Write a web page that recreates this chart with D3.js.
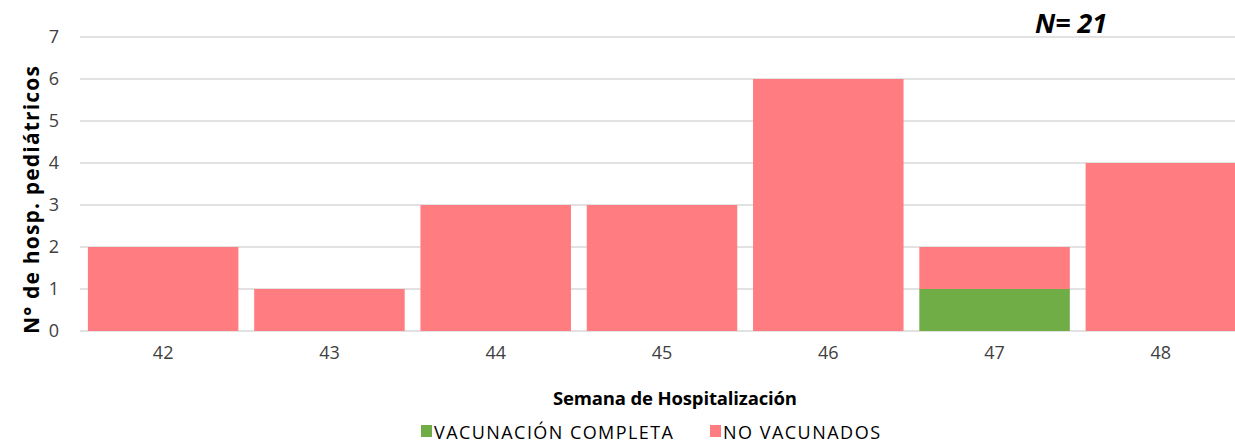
<!DOCTYPE html>
<html>
<head>
<meta charset="utf-8">
<script src="https://cdn.jsdelivr.net/npm/d3@7"></script>
<style>
  html, body { margin: 0; padding: 0; background: #fff; }
  svg { display: block; font-family: "Open Sans", "Liberation Sans", sans-serif; }
</style>
</head>
<body>
<svg id="chart" width="1235" height="443"></svg>
<script>
// Weekly paediatric hospitalisations by vaccination status
const weeks = ["42", "43", "44", "45", "46", "47", "48"];
const vacunacionCompleta = [0, 0, 0, 0, 0, 1, 0];
const noVacunados = [2, 1, 3, 3, 6, 1, 4];
const yTicks = [0, 1, 2, 3, 4, 5, 6, 7];
const seriesNames = ["VACUNACIÓN COMPLETA", "NO VACUNADOS"];
const seriesColors = ["#70AD47", "#FF7C80"];

const svg = d3.select("#chart");

const x = d3.scaleBand()
  .domain(weeks)
  .range([80, 1244])
  .paddingInner(0.095)
  .paddingOuter(0.0475);

const y = d3.scaleLinear().domain([0, 7]).range([331, 37]);

// gridlines
svg.append("g")
  .selectAll("line")
  .data(yTicks)
  .join("line")
  .attr("x1", 80).attr("x2", 1235)
  .attr("y1", d => y(d)).attr("y2", d => y(d))
  .attr("stroke", "#d9d9d9")
  .attr("stroke-width", 1.5);

// stacked bars
const rows = weeks.map((w, i) => ({ week: w, vac: vacunacionCompleta[i], novac: noVacunados[i] }));
const stack = d3.stack().keys(["vac", "novac"])(rows);

svg.append("g")
  .selectAll("g")
  .data(stack)
  .join("g")
  .attr("fill", (d, i) => seriesColors[i])
  .selectAll("rect")
  .data(d => d.filter(s => s[1] > s[0]))
  .join("rect")
  .attr("x", d => x(d.data.week))
  .attr("width", x.bandwidth())
  .attr("y", d => y(d[1]))
  .attr("height", d => y(d[0]) - y(d[1]));

// y axis labels
const yAxis = d3.axisLeft(y).tickValues(yTicks).tickFormat(d3.format("d")).tickSize(0).tickPadding(0);
svg.append("g")
  .attr("transform", "translate(59,0)")
  .call(yAxis)
  .call(g => g.select(".domain").remove())
  .call(g => g.selectAll("text")
    .attr("font-family", "Open Sans, Liberation Sans, sans-serif")
    .attr("font-size", 18).attr("fill", "#404040"));

// x axis labels
const xAxis = d3.axisBottom(x).tickSize(0).tickPadding(0);
svg.append("g")
  .attr("transform", "translate(0,346)")
  .call(xAxis)
  .call(g => g.select(".domain").remove())
  .call(g => g.selectAll("text")
    .attr("font-family", "Open Sans, Liberation Sans, sans-serif")
    .attr("font-size", 18).attr("fill", "#404040"));

// axis titles
svg.append("text")
  .attr("transform", "translate(39,200) rotate(-90)")
  .attr("text-anchor", "middle")
  .attr("font-weight", "bold")
  .attr("font-size", 21)
  .attr("textLength", 268)
  .attr("lengthAdjust", "spacing")
  .attr("fill", "#000")
  .text("N° de hosp. pediátricos");

svg.append("text")
  .attr("x", 675).attr("y", 405)
  .attr("text-anchor", "middle")
  .attr("font-weight", "bold")
  .attr("font-size", 18.5)
  .attr("textLength", 244)
  .attr("lengthAdjust", "spacing")
  .attr("fill", "#000")
  .text("Semana de Hospitalización");

// N annotation
svg.append("text")
  .attr("x", 1035).attr("y", 33)
  .attr("font-weight", "bold")
  .attr("font-style", "italic")
  .attr("font-size", 26)
  .attr("textLength", 72)
  .attr("lengthAdjust", "spacingAndGlyphs")
  .attr("fill", "#000")
  .text("N= 21");

// legend
const legendX = [421, 710];
const legendTextLen = [239, 157];
const legend = svg.append("g")
  .selectAll("g")
  .data(seriesNames)
  .join("g")
  .attr("transform", (d, i) => `translate(${legendX[i]},0)`);
legend.append("rect")
  .attr("x", 0).attr("y", 425).attr("width", 11).attr("height", 12)
  .attr("fill", (d, i) => seriesColors[i]);
legend.append("text")
  .attr("x", 13).attr("y", 439)
  .attr("font-size", 18)
  .attr("textLength", (d, i) => legendTextLen[i])
  .attr("lengthAdjust", "spacing")
  .attr("fill", "#000")
  .text(d => d);
</script>
</body>
</html>
